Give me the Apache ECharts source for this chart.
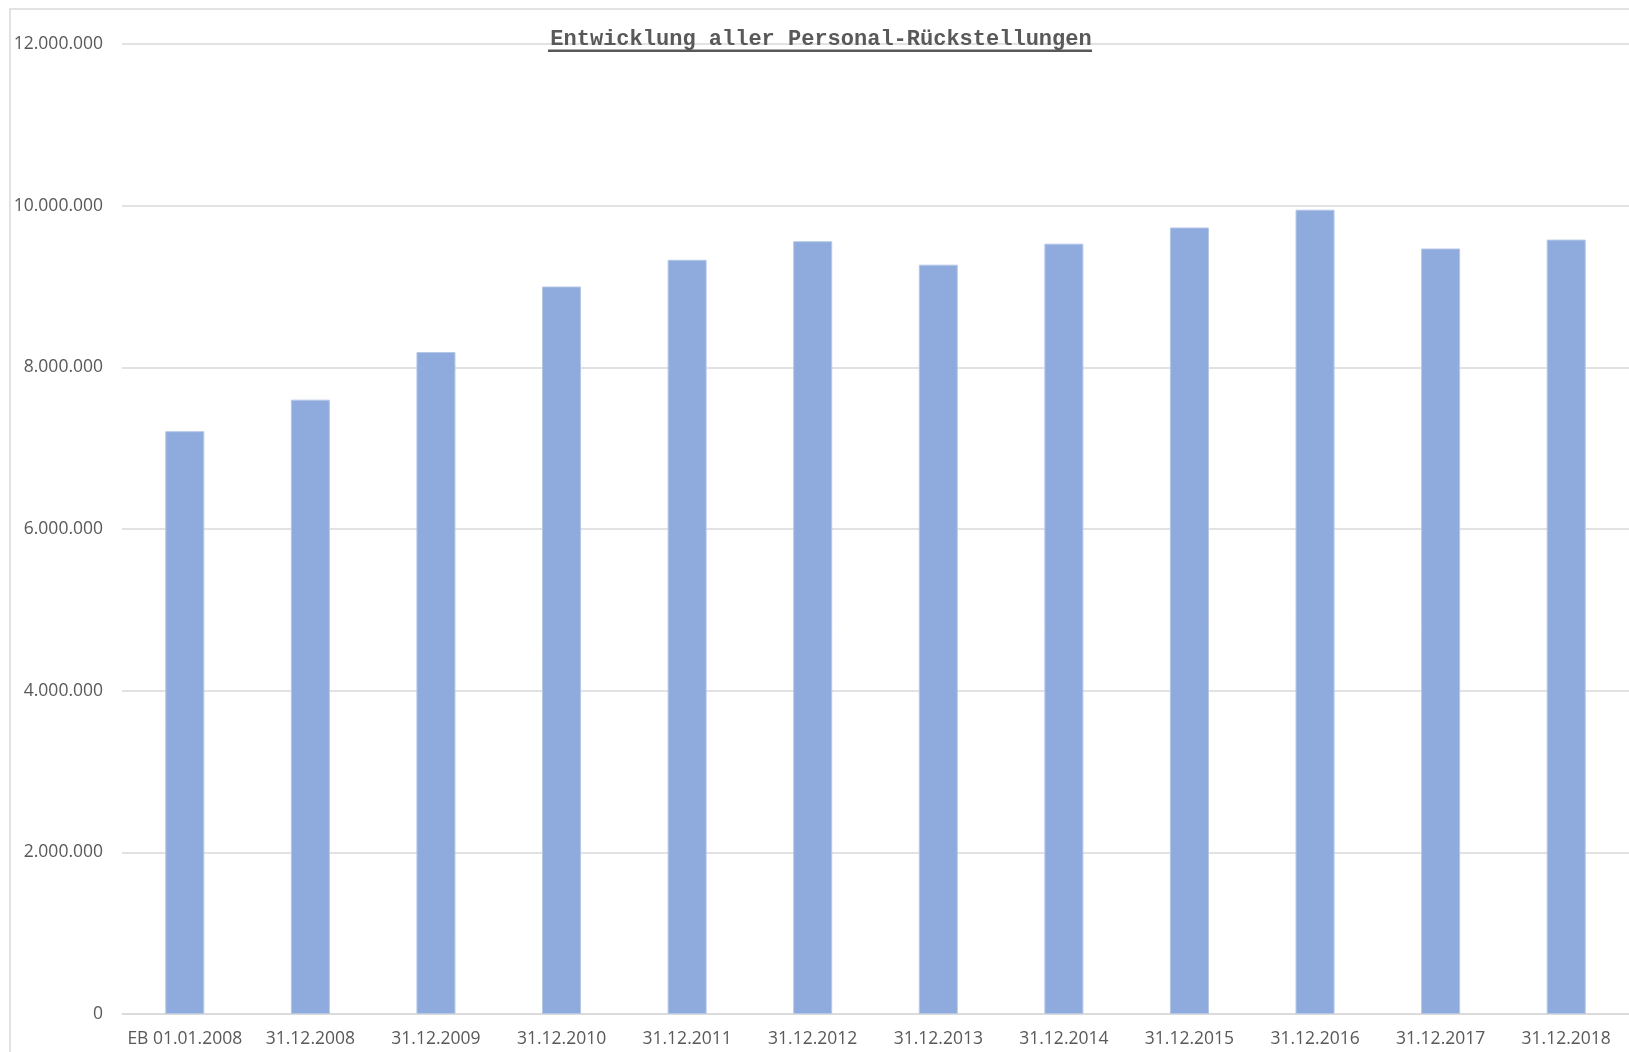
<!DOCTYPE html>
<html>
<head>
<meta charset="utf-8">
<title>Entwicklung aller Personal-Rückstellungen</title>
<script src="https://cdn.jsdelivr.net/npm/echarts@6/dist/echarts.min.js"></script>
<style>
  html, body { margin: 0; padding: 0; background: #fff; }
  #chart { width: 1629px; height: 1052px; }
</style>
</head>
<body>
<div id="chart"></div>
<script>
// Daten
const categories = [
  "EB 01.01.2008", "31.12.2008", "31.12.2009", "31.12.2010",
  "31.12.2011", "31.12.2012", "31.12.2013", "31.12.2014",
  "31.12.2015", "31.12.2016", "31.12.2017", "31.12.2018"
];
const rueckstellungen = [
  7210000, 7600000, 8190000, 9000000, 9330000, 9560000,
  9270000, 9530000, 9730000, 9950000, 9470000, 9580000
];
const yTicks = { min: 0, max: 12000000, interval: 2000000 };

const labelFont = "'Open Sans', 'Noto Sans', sans-serif";
const gray = "#595959";
const lineGray = "#d9d9d9";

const fmt = (v) => String(v).replace(/\B(?=(\d{3})+(?!\d))/g, ".");

const chart = echarts.init(document.getElementById("chart"));

const option = {
  animation: false,
  backgroundColor: "#fff",
  title: {
    text: "Entwicklung aller Personal-Rückstellungen",
    left: 816,
    top: 23,
    textAlign: "center",
    textStyle: {
      fontFamily: "'Liberation Mono', 'DejaVu Sans Mono', monospace",
      fontSize: 22,
      fontWeight: "bold",
      color: gray,
    },
  },
  graphic: [
    {
      // Rahmen des Diagrammbereichs
      type: "rect",
      silent: true,
      shape: { x: 10, y: 9, width: 2000, height: 2000 },
      style: { fill: "none", stroke: lineGray, lineWidth: 1.5 },
    },
    {
      // Unterstreichung des Titels
      type: "rect",
      silent: true,
      shape: { x: 548, y: 49.5, width: 544, height: 2.5 },
      style: { fill: gray },
    },
  ],
  grid: {
    left: 122,
    right: 0,
    top: 44,
    bottom: 38,
  },
  xAxis: {
    type: "category",
    data: categories,
    axisTick: { show: false },
    axisLine: { lineStyle: { color: lineGray, width: 1.5 } },
    axisLabel: {
      color: gray,
      fontFamily: labelFont,
      fontSize: 17.5,
      margin: 16,
      interval: 0,
    },
  },
  yAxis: {
    type: "value",
    min: yTicks.min,
    max: yTicks.max,
    interval: yTicks.interval,
    axisLine: { show: false },
    axisTick: { show: false },
    axisLabel: {
      color: gray,
      fontFamily: labelFont,
      fontSize: 17.5,
      margin: 19,
      formatter: fmt,
    },
    splitLine: { lineStyle: { color: lineGray, width: 1.5 } },
  },
  series: [
    {
      type: "bar",
      data: rueckstellungen,
      barWidth: 39,
      itemStyle: {
        color: "#8faadc",
        borderColor: "#b4c7e7",
        borderWidth: 1,
      },
    },
  ],
};

chart.setOption(option);
</script>
</body>
</html>
